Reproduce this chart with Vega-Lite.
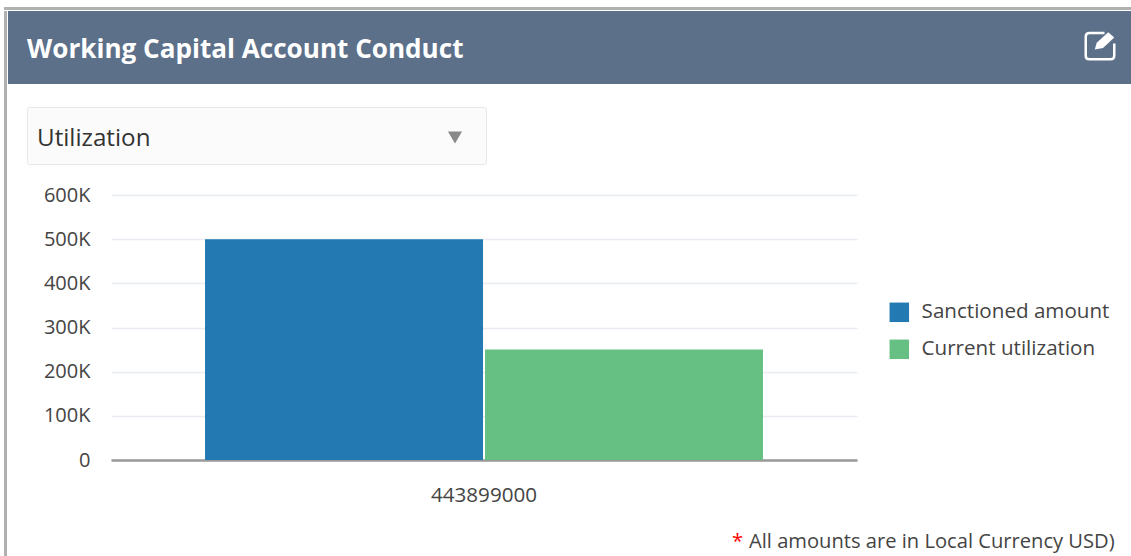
{
"$schema":"https://vega.github.io/schema/vega-lite/v6.json",
"background":"white",
"padding":{"left":4,"top":7,"right":0,"bottom":0},
"config":{"font":"Open Sans","view":{"stroke":null}},
"concat":[
{"data":{"values":[]},"mark":{"type":"rule"},"encoding":{},"width":1127,"height":3,"view":{"fill":"#b0b0b0","stroke":null}},
{"concat":[
 {"data":{"values":[]},"mark":{"type":"rule"},"encoding":{},"width":3,"height":546,"view":{"fill":"#b0b0b0","stroke":null}},
 {"concat":[
  {"concat":[
  {"width":1123,"height":73,"view":{"fill":"#5c708a","stroke":null},
   "data":{"values":[{"item":"Working Capital Account Conduct"},{"item":"edit"}]},
   "encoding":{"x":{"field":"item","type":"nominal","axis":null,"scale":{"type":"point","domain":["Working Capital Account Conduct","edit"],"range":[19,1092],"padding":0}}},
   "layer":[
    {"transform":[{"filter":"datum.item!='edit'"}],"mark":{"type":"text","align":"left","baseline":"middle","fontSize":26.1,"fontWeight":"bold","color":"white","dy":2},"encoding":{"text":{"field":"item"}}},
    {"transform":[{"filter":"datum.item=='edit'"}],"mark":{"type":"point","filled":false,"stroke":"white","strokeWidth":2.5,"size":900,"yOffset":-2.5,"shape":"M0.3,-0.8 L-0.7,-0.8 Q-0.95,-0.8 -0.95,-0.55 L-0.95,0.75 Q-0.95,0.95 -0.7,0.95 L0.7,0.95 Q0.95,0.95 0.95,0.7 L0.95,-0.1","opacity":1}},
    {"transform":[{"filter":"datum.item=='edit'"}],"mark":{"type":"point","filled":true,"fill":"white","strokeWidth":0,"size":900,"yOffset":-2.5,"shape":"M-0.35,0.3 L-0.22,-0.15 L0.55,-0.85 L0.95,-0.5 L0.2,0.2 Z","opacity":1}}
   ]},
  {"concat":[
   {"data":{"values":[]},"mark":{"type":"rule"},"encoding":{},"width":18,"height":57},
   {"width":459,"height":57,"view":{"fill":"#fbfbfb","stroke":"#e8e8e8","cornerRadius":2},
    "data":{"values":[{"item":"Utilization"},{"item":"open"}]},
    "encoding":{"x":{"field":"item","type":"nominal","axis":null,"scale":{"type":"point","domain":["Utilization","open"],"range":[10,428],"padding":0}}},
    "layer":[
     {"transform":[{"filter":"datum.item!='open'"}],"mark":{"type":"text","align":"left","baseline":"middle","fontSize":24.2,"color":"#333333","dy":3},"encoding":{"text":{"field":"item"}}},
     {"transform":[{"filter":"datum.item=='open'"}],"mark":{"type":"point","shape":"triangle-down","filled":true,"fill":"#888888","strokeWidth":0,"size":200,"opacity":1,"yOffset":2}}
    ]}
  ],"spacing":0,"align":"none"}
  ],"columns":1,"spacing":22,"align":"none"},
  {"concat":[
  {"data":{"values":[]},"mark":{"type":"rule"},"encoding":{},"width":103,"height":1},
  {"width":746,"height":265,
   "data":{"values":[
    {"account":"443899000","series":"Sanctioned amount","amount":500000},
    {"account":"443899000","series":"Current utilization","amount":250000}
   ]},
   "mark":{"type":"bar"},
   "encoding":{
    "x":{"field":"account","type":"nominal","scale":{"paddingInner":0,"paddingOuter":0.1685},"axis":{"title":null,"labelAngle":0,"labelFontSize":20.6,"labelColor":"#444444","labelPadding":25,"ticks":false,"domainColor":"#999999","domainWidth":2.5}},
    "xOffset":{"field":"series","type":"nominal","sort":["Sanctioned amount","Current utilization"],"scale":{"paddingInner":0.007}},
    "y":{"field":"amount","type":"quantitative","scale":{"domain":[0,600000]},"axis":{"title":null,"values":[0,100000,200000,300000,400000,500000,600000],"labelExpr":"datum.value==0?'0':(datum.value/1000)+'K'","labelFontSize":20,"labelColor":"#444444","labelPadding":21,"ticks":false,"domain":false,"gridColor":"#e8ecf1","gridWidth":1.5}},
    "color":{"field":"series","type":"nominal","sort":["Sanctioned amount","Current utilization"],"scale":{"domain":["Sanctioned amount","Current utilization"],"range":["#237ab3","#67c083"]},
     "legend":{"title":null,"orient":"none","legendX":885,"legendY":295,"symbolType":"square","symbolSize":380,"symbolStrokeWidth":0,"labelFontSize":20.6,"labelColor":"#444444","labelOffset":12,"labelLimit":300,"rowPadding":16}}
   }}
  ],"spacing":0,"align":"none","bounds":"flush"},
  {"width":1123,"height":32,
   "data":{"values":[{"item":"*"},{"item":"All amounts are in Local Currency USD)"}]},
   "encoding":{
    "x":{"field":"item","type":"nominal","axis":null,"scale":{"type":"point","domain":["*","All amounts are in Local Currency USD)"],"range":[724,741],"padding":0}},
    "text":{"field":"item"}
   },
   "layer":[
    {"transform":[{"filter":"datum.item=='*'"}],"mark":{"type":"text","align":"left","baseline":"middle","fontSize":20.15,"color":"#ff0000"}},
    {"transform":[{"filter":"datum.item!='*'"}],"mark":{"type":"text","align":"left","baseline":"middle","fontSize":20.15,"color":"#444444"}}
   ]}
 ],"columns":1,"spacing":20,"align":"none"}
],"spacing":1,"align":"none"}
],
"columns":1,"spacing":1,"align":"none"
}
